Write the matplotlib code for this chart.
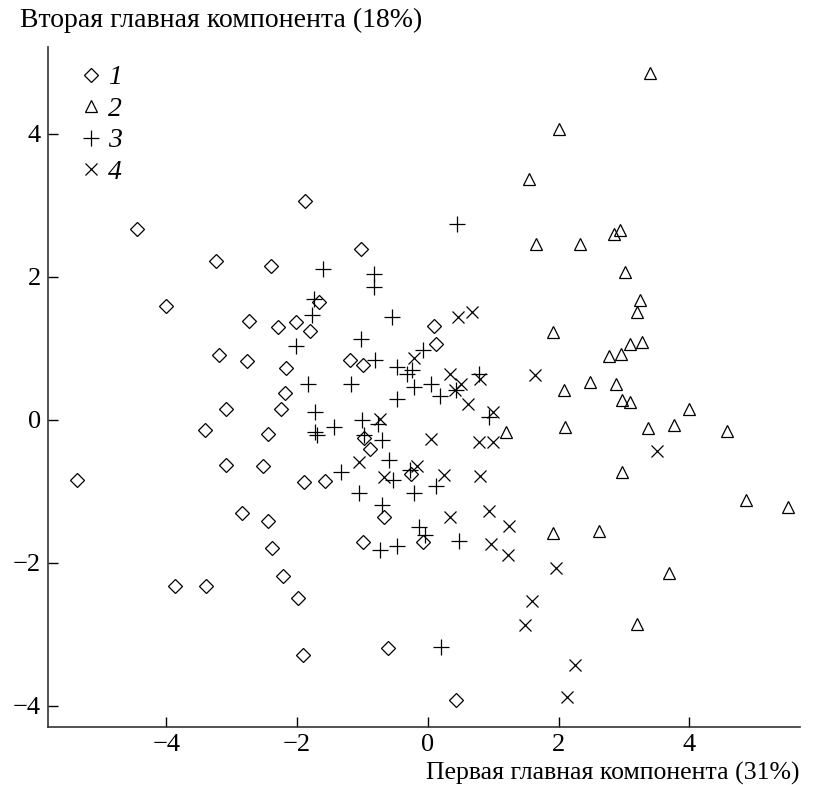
import matplotlib
matplotlib.use("Agg")
import matplotlib.pyplot as plt

plt.rcParams['font.family'] = ['Liberation Serif', 'DejaVu Serif']

# Group 1 (diamonds)
g1_x = [-5.36, -4.45, -4.00, -3.24, -3.19, -3.09, -3.41, -3.09, -2.74, -2.76,
        -2.40, -2.30, -2.17, -2.19, -2.25, -2.45, -2.52, -2.01, -1.80, -1.67,
        -1.88, -1.02, -1.19, -0.99, 0.09, 0.13, -1.89, -1.57, -0.985, -0.89,
        -0.26, -0.67, -0.99, -0.08, -0.61, 0.43, -1.91, -1.99, -2.21, -2.39,
        -2.44, -2.85, -3.87, -3.39]
g1_y = [-0.84, 2.66, 1.59, 2.22, 0.90, 0.15, -0.15, -0.63, 1.38, 0.82,
        2.15, 1.29, 0.72, 0.37, 0.15, -0.20, -0.65, 1.36, 1.24, 1.65,
        3.05, 2.39, 0.83, 0.76, 1.31, 1.06, -0.88, -0.86, -0.26, -0.41,
        -0.755, -1.37, -1.71, -1.71, -3.19, -3.92, -3.29, -2.50, -2.19, -1.80,
        -1.42, -1.31, -2.33, -2.33]

# Group 2 (triangles)
g2_x = [3.40, 2.01, 1.55, 2.93, 2.85, 2.33, 1.66, 3.01, 3.24, 3.19,
        1.91, 3.09, 3.28, 2.77, 2.95, 2.48, 2.88, 2.08, 2.97, 3.09,
        4.00, 2.10, 3.37, 3.77, 4.57, 2.97, 4.87, 5.51, 1.19, 1.92,
        2.61, 3.68, 3.19]
g2_y = [4.85, 4.07, 3.37, 2.65, 2.60, 2.45, 2.46, 2.06, 1.67, 1.51,
        1.23, 1.05, 1.09, 0.89, 0.91, 0.53, 0.49, 0.41, 0.28, 0.24,
        0.15, -0.10, -0.12, -0.08, -0.16, -0.73, -1.12, -1.22, -0.17, -1.58,
        -1.56, -2.15, -2.86]

# Group 3 (plus)
g3_x = [0.45, -1.60, -0.83, -0.83, -1.74, -1.77, -0.55, -2.02, -1.03, -0.81,
        -0.47, -0.32, -0.24, -0.07, -1.84, -1.18, -0.22, 0.05, 0.18, -0.47,
        -1.72, -1.72, -1.70, -1.43, -1.01, -0.77, -0.97, -0.70, -0.60, -1.33,
        -0.54, -0.27, -1.05, -0.22, 0.13, -0.70, -0.13, -0.04, -0.73, -0.47,
        0.47, 0.20, 0.78, 0.93, 0.43]
g3_y = [2.74, 2.10, 2.03, 1.86, 1.69, 1.46, 1.43, 1.03, 1.12, 0.83,
        0.74, 0.64, 0.69, 0.97, 0.50, 0.49, 0.46, 0.50, 0.33, 0.29,
        0.11, -0.18, -0.21, -0.10, -0.01, -0.06, -0.22, -0.28, -0.56, -0.73,
        -0.84, -0.70, -1.03, -1.03, -0.93, -1.19, -1.50, -1.61, -1.82, -1.77,
        -1.70, -3.18, 0.63, 0.04, 0.41]

# Group 4 (cross)
g4_x = [0.46, 0.68, -0.22, 0.34, 0.51, 0.42, 0.61, 0.79, 0.99, 1.63,
        -0.74, 0.05, 0.78, 0.99, -1.06, -0.67, -0.16, 0.25, 0.80, 0.93,
        0.33, 1.24, 0.96, 1.23, 1.96, 1.59, 1.49, 2.25, 2.13, 3.50]
g4_y = [1.43, 1.51, 0.86, 0.63, 0.50, 0.41, 0.22, 0.57, 0.11, 0.62,
        0.01, -0.27, -0.32, -0.32, -0.59, -0.80, -0.65, -0.77, -0.79, -1.28,
        -1.36, -1.49, -1.74, -1.90, -2.08, -2.54, -2.88, -3.43, -3.88, -0.44]

labels = ['1', '2', '3', '4']
xticks = [-4, -2, 0, 2, 4]
yticks = [-4, -2, 0, 2, 4]

fig = plt.figure(figsize=(8.2, 7.85), dpi=100)
ax = fig.add_axes([48/820, 58/785, 752/820, 680/785])

kw = dict(linestyle='none', color='black', markerfacecolor='none',
          markeredgecolor='black', markeredgewidth=0.9)
ax.plot(g1_x, g1_y, marker='D', markersize=7, label=labels[0], **kw)
ax.plot(g2_x, g2_y, marker='^', markersize=9, label=labels[1], **kw)
ax.plot(g3_x, g3_y, marker='+', markersize=11, label=labels[2], **kw)
ax.plot(g4_x, g4_y, marker='x', markersize=8, label=labels[3], **kw)

ax.set_xlim(-5.81, 5.69)
ax.set_ylim(-4.30, 5.21)
ax.set_xticks(xticks)
ax.set_yticks(yticks)
ax.set_xticklabels([("\u2212%d" % -t) if t < 0 else "%d" % t for t in xticks])
ax.set_yticklabels([("\u2212%d" % -t) if t < 0 else "%d" % t for t in yticks])
ax.tick_params(direction='in', length=7, width=1, labelsize=19, pad=5)
for s in ['top', 'right']:
    ax.spines[s].set_visible(False)
for s in ['left', 'bottom']:
    ax.spines[s].set_linewidth(1.2)
    ax.spines[s].set_color('#333333')

leg = ax.legend(loc='upper left', bbox_to_anchor=(0.028, 0.99), frameon=False,
                numpoints=1, handlelength=0.8, handletextpad=0.2,
                labelspacing=0.22, borderaxespad=0,
                prop={'family': 'Liberation Serif', 'style': 'italic', 'size': 20})

fig.text(20/820, 1 - 8/785, "Вторая главная компонента (18%)",
         ha='left', va='top', fontsize=20)
fig.text(800/820, 1 - 773/785, "Первая главная компонента (31%)",
         ha='right', va='center', fontsize=18.5)

fig.savefig('out.png', dpi=100)
